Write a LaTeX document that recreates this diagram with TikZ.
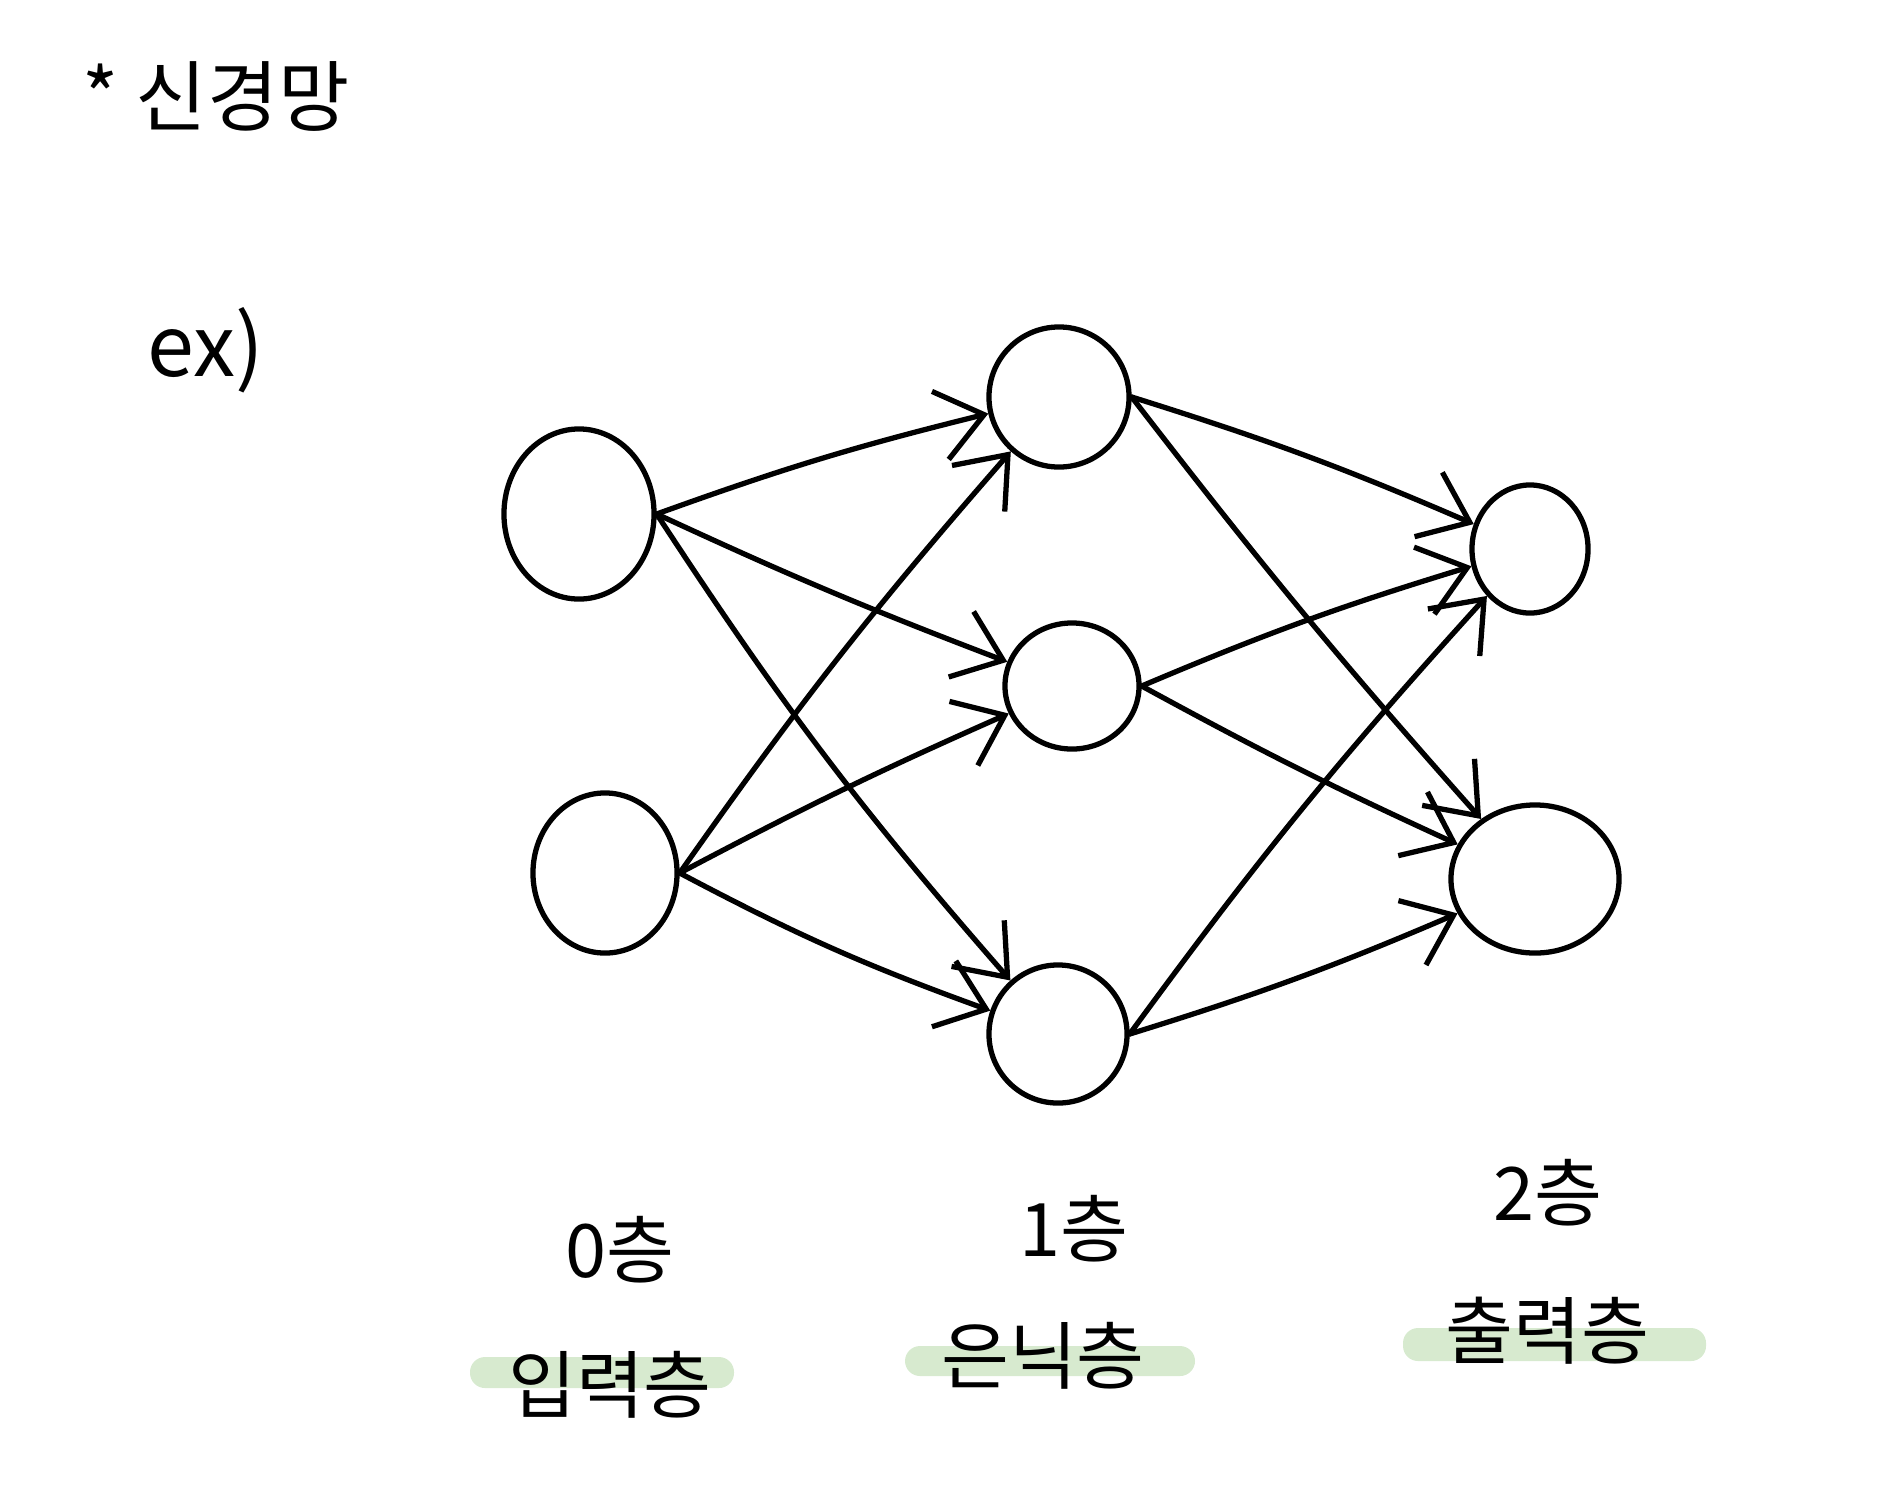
\documentclass[tikz,border=0pt]{standalone}
\usepackage{fontspec}
\setmainfont{Noto Sans CJK KR}
\usetikzlibrary{arrows.meta,shapes.geometric}
\definecolor{barGreen}{HTML}{D7EACF}
\begin{document}
\begin{tikzpicture}[x=0.01cm,y=-0.01cm,
  neuron/.style={draw,ellipse,line width=1.5pt,inner sep=0pt},
  link/.style={line width=1.5pt,line cap=round,-{Straight Barb[length=4.5mm,width=7mm]}},
  layertext/.style={font=\fontsize{21}{25}\selectfont,inner sep=0pt},
  highlight/.style={fill=barGreen,rounded corners=1.5mm}]
  \useasboundingbox (0,0) rectangle (1880,1506);

  % Title
  \node[font=\fontsize{22}{26}\selectfont] (title) at (216,96) {* 신경망};
  \node[font=\fontsize{24}{28}\selectfont] (ex) at (206,350) {ex)};

  % Layer 0
  \node[neuron,minimum width=1.50cm,minimum height=1.70cm] (i1) at (579,514) {};
  \node[neuron,minimum width=1.44cm,minimum height=1.60cm] (i2) at (605,873) {};
  % Layer 1
  \node[neuron,minimum width=1.40cm,minimum height=1.40cm] (h1) at (1059,397) {};
  \node[neuron,minimum width=1.34cm,minimum height=1.26cm] (h2) at (1072,686) {};
  \node[neuron,minimum width=1.38cm,minimum height=1.38cm] (h3) at (1058,1034) {};
  % Layer 2
  \node[neuron,minimum width=1.16cm,minimum height=1.28cm] (o1) at (1530,549) {};
  \node[neuron,minimum width=1.68cm,minimum height=1.48cm] (o2) at (1535,879) {};

  % Layer 0 -> layer 1
  \draw[link] (i1.east) to[bend left=3] (h1);
  \draw[link] (i1.east) to[bend right=2] (h2);
  \draw[link] (i1.east) to[bend right=4] (h3);
  \draw[link] (i2.east) to[bend left=3] (h1);
  \draw[link] (i2.east) to[bend left=2] (h2);
  \draw[link] (i2.east) to[bend right=4] (h3);
  % Layer 1 -> layer 2
  \draw[link] (h1.east) to[bend left=3] (o1);
  \draw[link] (h1.east) to[bend right=2] (o2);
  \draw[link] (h2.east) to[bend left=3] (o1);
  \draw[link] (h2.east) to[bend right=2] (o2);
  \draw[link] (h3.east) to[bend left=3] (o1);
  \draw[link] (h3.east) to[bend right=3] (o2);

  % Layer names
  \node[layertext] (n0) at (620,1250) {0층};
  \node[layertext] (n1) at (1074,1229) {1층};
  \node[layertext] (n2) at (1548,1193) {2층};

  % Highlighted layer roles
  \fill[highlight] (470,1357) rectangle (734,1388);
  \fill[highlight] (905,1346) rectangle (1195,1376);
  \fill[highlight] (1403,1328) rectangle (1706,1361);
  \node[layertext] (r0) at (610,1385) {입력층};
  \node[layertext] (r1) at (1043,1356) {은닉층};
  \node[layertext] (r2) at (1547,1331) {출력층};
\end{tikzpicture}
\end{document}
